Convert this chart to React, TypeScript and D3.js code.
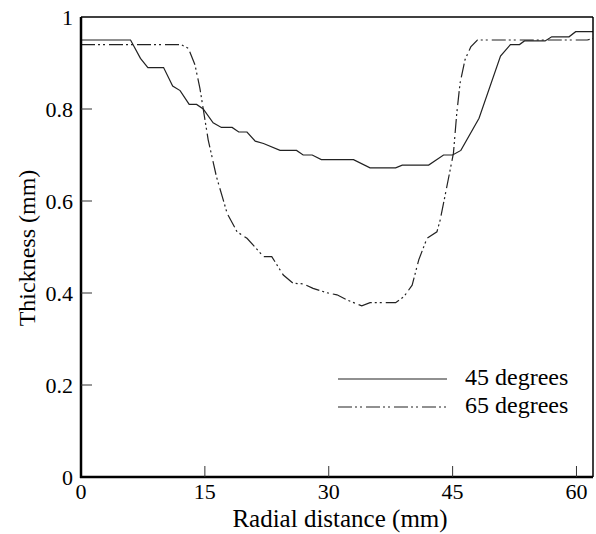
import React from "react";
import * as d3 from "d3";

const xTicks = [0, 15, 30, 45, 60];
const yTicks = [0, 0.2, 0.4, 0.6, 0.8, 1];
const yTickLabels = ["0", "0.2", "0.4", "0.6", "0.8", "1"];

const deg45: [number, number][] = [
  [0, 0.95], [6, 0.95], [7.2, 0.91], [8.1, 0.89], [10, 0.89], [11.1, 0.85], [12, 0.84],
  [13.1, 0.81], [14, 0.81], [14.8, 0.8], [16, 0.77], [17, 0.76], [18.3, 0.76], [19.1, 0.75],
  [20.1, 0.75], [21.1, 0.73], [22.1, 0.725], [24.1, 0.71], [26.1, 0.71], [26.9, 0.7], [28, 0.7],
  [29.1, 0.69], [33, 0.69], [35, 0.672], [38.1, 0.672], [38.9, 0.678], [42.1, 0.678],
  [43.9, 0.7], [45, 0.7], [46, 0.71], [48.2, 0.78], [50.8, 0.915], [52, 0.94], [53.1, 0.94],
  [53.7, 0.948], [56.2, 0.948], [57, 0.957], [59.1, 0.957], [59.9, 0.968], [62, 0.968],
];

const deg65: [number, number][] = [
  [0, 0.94], [12.1, 0.94], [13, 0.932], [13.8, 0.896], [14.4, 0.845], [14.8, 0.8], [15.4, 0.733],
  [16.4, 0.653], [17.7, 0.573], [18.9, 0.533], [20.1, 0.519], [22.1, 0.479], [23.1, 0.479],
  [24.5, 0.439], [25.7, 0.421], [26.9, 0.42], [28.1, 0.41], [29.9, 0.4], [31, 0.396],
  [32.2, 0.385], [34, 0.372], [35, 0.379], [38.1, 0.379], [39.1, 0.392], [40.1, 0.417],
  [40.9, 0.472], [41.9, 0.519], [43.1, 0.533], [43.5, 0.559], [44.3, 0.631], [45.1, 0.704],
  [45.5, 0.79], [45.9, 0.856], [46.5, 0.907], [47.2, 0.935], [48, 0.95], [61.3, 0.95], [62, 0.953],
];

const seriesNames = ["45 degrees", "65 degrees"];

export default function App() {
  const left = 81, right = 593, top = 17, bottom = 477;
  const x = d3.scaleLinear().domain([0, 62]).range([left, right]);
  const y = d3.scaleLinear().domain([0, 1]).range([bottom, top]);
  const line = d3.line<[number, number]>().x((d) => x(d[0])).y((d) => y(d[1]));
  const ff = "Liberation Serif";
  const dash65 = "14 3 2 3 2 4";
  return (
    <svg width={596} height={534} style={{ position: "absolute", left: 0, top: 0, background: "#fff" }}>
      <rect x={0} y={0} width={596} height={534} fill="#fff" />
      <defs>
        <clipPath id="plot">
          <rect x={left} y={top} width={right - left} height={bottom - top} />
        </clipPath>
      </defs>
      <g clipPath="url(#plot)">
        <path d={line(deg45) ?? ""} fill="none" stroke="#222" strokeWidth={1.2} />
        <path d={line(deg65) ?? ""} fill="none" stroke="#222" strokeWidth={1.2} strokeDasharray={dash65} />
      </g>
      <line x1={left} x2={right} y1={top} y2={top} stroke="#000" strokeWidth={1.5} />
      <line x1={right} x2={right} y1={top} y2={bottom} stroke="#000" strokeWidth={1.5} />
      <line x1={left} x2={left} y1={top} y2={bottom + 1} stroke="#000" strokeWidth={2.5} />
      <line x1={left - 1} x2={right} y1={bottom} y2={bottom} stroke="#000" strokeWidth={2.5} />
      {xTicks.map((t) => (
        <g key={"x" + t}>
          {t > 0 && <line x1={x(t)} x2={x(t)} y1={bottom} y2={bottom - 11} stroke="#333" strokeWidth={1} />}
          <text x={x(t)} y={499} textAnchor="middle" fontSize={22} fill="#000" fontFamily={ff}>{t}</text>
        </g>
      ))}
      {yTicks.map((t, i) => (
        <g key={"y" + t}>
          {t > 0 && t < 1 && <line x1={left} x2={left + 11} y1={y(t)} y2={y(t)} stroke="#333" strokeWidth={1} />}
          <text x={73} y={y(t) + 8} textAnchor="end" fontSize={22} fill="#000" fontFamily={ff}>{yTickLabels[i]}</text>
        </g>
      ))}
      <text x={340} y={527} textAnchor="middle" fontSize={25} fill="#000" fontFamily={ff}>Radial distance (mm)</text>
      <text transform={`translate(35,248) rotate(-90)`} textAnchor="middle" fontSize={24} fill="#000" fontFamily={ff}>Thickness (mm)</text>
      <line x1={338} x2={447} y1={379} y2={379} stroke="#222" strokeWidth={1.2} />
      <line x1={338} x2={447} y1={407} y2={407} stroke="#222" strokeWidth={1.2} strokeDasharray={dash65} />
      <text x={465} y={385} fontSize={24} fill="#000" fontFamily={ff}>{seriesNames[0]}</text>
      <text x={465} y={413} fontSize={24} fill="#000" fontFamily={ff}>{seriesNames[1]}</text>
    </svg>
  );
}
